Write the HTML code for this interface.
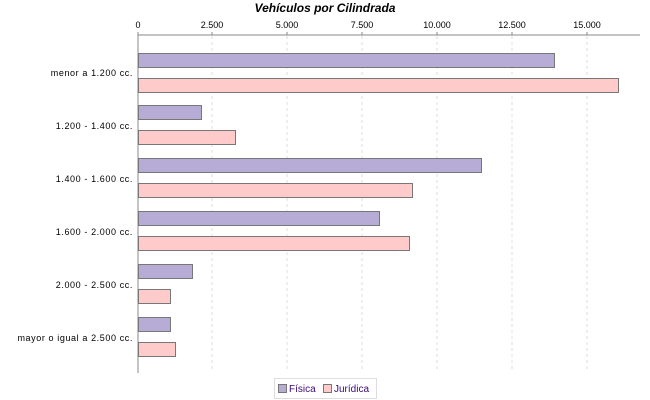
<!DOCTYPE html><html><head><style>body{margin:0;background:#fff}svg{display:block}</style></head><body>
<svg width="650" height="400" xmlns="http://www.w3.org/2000/svg" font-family="Liberation Sans, sans-serif">
<text x="325" y="12" text-anchor="middle" font-size="12" font-weight="bold" font-style="italic">Vehículos por Cilindrada</text>
<g stroke="#ddd" stroke-dasharray="3,3"><line x1="212" y1="36" x2="212" y2="372"/><line x1="287" y1="36" x2="287" y2="372"/><line x1="362" y1="36" x2="362" y2="372"/><line x1="437" y1="36" x2="437" y2="372"/><line x1="512" y1="36" x2="512" y2="372"/><line x1="587" y1="36" x2="587" y2="372"/></g>
<line x1="138" y1="35" x2="640" y2="35" stroke="#888"/><line x1="138" y1="35" x2="138" y2="373" stroke="#888"/>
<g stroke="#888"><line x1="138" y1="32" x2="138" y2="35"/><line x1="212" y1="32" x2="212" y2="35"/><line x1="287" y1="32" x2="287" y2="35"/><line x1="362" y1="32" x2="362" y2="35"/><line x1="437" y1="32" x2="437" y2="35"/><line x1="512" y1="32" x2="512" y2="35"/><line x1="587" y1="32" x2="587" y2="35"/></g>
<g font-size="9" text-anchor="middle"><text x="138" y="28">0</text><text x="212" y="28">2.500</text><text x="287" y="28">5.000</text><text x="362" y="28">7.500</text><text x="437" y="28">10.000</text><text x="512" y="28">12.500</text><text x="587" y="28">15.000</text></g>
<g stroke="#777" stroke-width="1">
<g fill="#b6acd6"><rect x="138.5" y="53.5" width="416" height="14"/><rect x="138.5" y="105.5" width="63" height="14"/><rect x="138.5" y="158.5" width="343" height="14"/><rect x="138.5" y="211.5" width="241" height="14"/><rect x="138.5" y="264.5" width="54" height="14"/><rect x="138.5" y="317.5" width="32" height="14"/></g>
<g fill="#ffcaca"><rect x="138.5" y="78.5" width="480" height="14"/><rect x="138.5" y="130.5" width="97" height="14"/><rect x="138.5" y="183.5" width="274" height="14"/><rect x="138.5" y="236.5" width="271" height="14"/><rect x="138.5" y="289.5" width="32" height="14"/><rect x="138.5" y="342.5" width="37" height="14"/></g>
</g>
<g font-size="9" text-anchor="end" letter-spacing="0.6"><text x="133" y="76">menor a 1.200 cc.</text><text x="133" y="129">1.200 - 1.400 cc.</text><text x="133" y="182">1.400 - 1.600 cc.</text><text x="133" y="235">1.600 - 2.000 cc.</text><text x="133" y="288">2.000 - 2.500 cc.</text><text x="133" y="341">mayor o igual a 2.500 cc.</text></g>
<rect x="274.5" y="378.5" width="102" height="20" fill="#fff" stroke="#ddd"/>
<rect x="278.5" y="384.5" width="8" height="8" fill="#b6acd6" stroke="#777"/>
<text x="289" y="392" font-size="10" fill="#3a0a78">Física</text>
<rect x="323.5" y="384.5" width="8" height="8" fill="#ffcaca" stroke="#777"/>
<text x="334" y="392" font-size="10" fill="#3a0a78">Jurídica</text>
</svg></body></html>
